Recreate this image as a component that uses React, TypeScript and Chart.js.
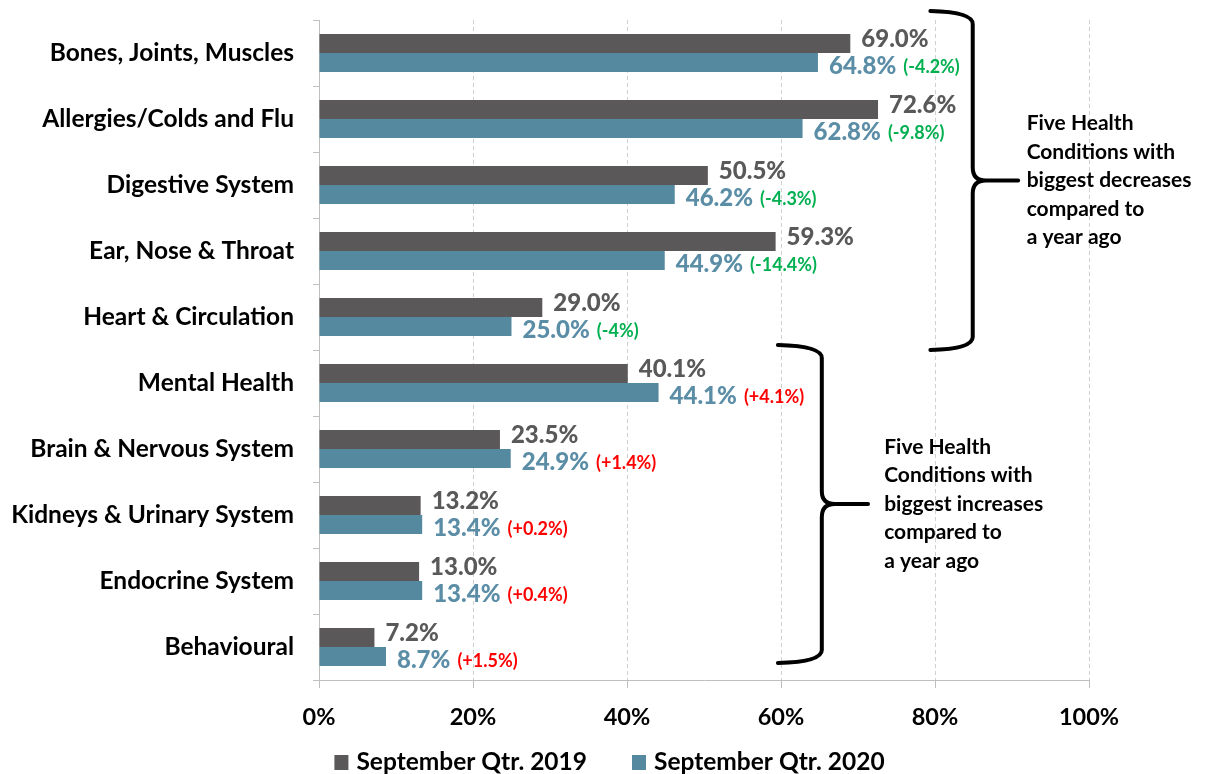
import React, { useEffect, useRef } from 'react';
import { Chart, registerables } from 'chart.js';

Chart.register(...registerables);

const categories = [
  'Bones, Joints, Muscles',
  'Allergies/Colds and Flu',
  'Digestive System',
  'Ear, Nose & Throat',
  'Heart & Circulation',
  'Mental Health',
  'Brain & Nervous System',
  'Kidneys & Urinary System',
  'Endocrine System',
  'Behavioural',
];
const sep2019 = [69.0, 72.6, 50.5, 59.3, 29.0, 40.1, 23.5, 13.2, 13.0, 7.2];
const sep2020 = [64.8, 62.8, 46.2, 44.9, 25.0, 44.1, 24.9, 13.4, 13.4, 8.7];
const changeLabels = ['(-4.2%)', '(-9.8%)', '(-4.3%)', '(-14.4%)', '(-4%)', '(+4.1%)', '(+1.4%)', '(+0.2%)', '(+0.4%)', '(+1.5%)'];
const seriesNames = ['September Qtr. 2019', 'September Qtr. 2020'];
const xMin = 0;
const xMax = 100;
const xStep = 20;
const decreaseNote = ['Five Health', 'Conditions with', 'biggest decreases', 'compared to', 'a year ago'];
const increaseNote = ['Five Health', 'Conditions with', 'biggest increases', 'compared to', 'a year ago'];

const FONT = 'Lato, "Open Sans", sans-serif';
const DARK = '#5A5858';
const TEAL = '#5589A0';
const DARK_LABEL = '#595959';
const TEAL_LABEL = '#5B8EA6';
const GREEN = '#00B050';
const RED = '#FF0000';

const valueLabelPlugin = {
  id: 'valueLabels',
  afterDatasetsDraw(chart: any) {
    const ctx = chart.ctx;
    ctx.save();
    ctx.textAlign = 'left';
    ctx.textBaseline = 'middle';
    chart.data.datasets.forEach((ds: any, di: number) => {
      const meta = chart.getDatasetMeta(di);
      meta.data.forEach((bar: any, i: number) => {
        const { x, y } = bar.getProps(['x', 'y'], true);
        const text = Number(ds.data[i]).toFixed(1) + '%';
        ctx.font = `900 24px ${FONT}`;
        ctx.fillStyle = di === 0 ? DARK_LABEL : TEAL_LABEL;
        const ty = di === 0 ? y - 4 : y + 4;
        ctx.fillText(text, x + 11, ty);
        if (di === 1) {
          const w = ctx.measureText(text).width;
          const ch = changeLabels[i];
          ctx.font = `bold 18px ${FONT}`;
          ctx.fillStyle = ch.indexOf('-') >= 0 ? GREEN : RED;
          ctx.fillText(ch, x + 11 + w + 7, ty + 1);
        }
      });
    });
    ctx.restore();
  },
};

function drawBrace(ctx: any, xArm: number, xInner: number, xTip: number, yTop: number, yBot: number) {
  const yMid = (yTop + yBot) / 2;
  const r = 13;
  ctx.beginPath();
  ctx.moveTo(xArm, yTop);
  ctx.quadraticCurveTo(xInner, yTop + 1, xInner, yTop + r);
  ctx.lineTo(xInner, yMid - r);
  ctx.quadraticCurveTo(xInner, yMid, xInner + r, yMid);
  ctx.lineTo(xTip, yMid);
  ctx.moveTo(xInner + r, yMid);
  ctx.quadraticCurveTo(xInner, yMid, xInner, yMid + r);
  ctx.lineTo(xInner, yBot - r);
  ctx.quadraticCurveTo(xInner, yBot - 1, xArm, yBot);
  ctx.stroke();
}

const bracketPlugin = {
  id: 'brackets',
  afterDraw(chart: any) {
    const ctx = chart.ctx;
    const xs = chart.scales.x;
    const ys = chart.scales.y;
    const half = (ys.getPixelForValue(1) - ys.getPixelForValue(0)) / 2;
    ctx.save();
    ctx.strokeStyle = '#000';
    ctx.lineWidth = 4;
    ctx.lineCap = 'round';
    ctx.lineJoin = 'round';

    const groups = [
      { arm: 79.4, inner: 84.9, tip: 90.8, text: 91.9, top: ys.getPixelForValue(0) - half - 9, bot: ys.getPixelForValue(4) + half, lines: decreaseNote },
      { arm: 59.6, inner: 65.3, tip: 71.3, text: 73.4, top: ys.getPixelForValue(5) - half - 5, bot: ys.getPixelForValue(9) + half - 17, lines: increaseNote },
    ];
    groups.forEach((g) => {
      drawBrace(ctx, xs.getPixelForValue(g.arm), xs.getPixelForValue(g.inner), xs.getPixelForValue(g.tip), g.top, g.bot);
      const mid = (g.top + g.bot) / 2;
      ctx.font = `bold 21px ${FONT}`;
      ctx.fillStyle = '#000';
      ctx.textAlign = 'left';
      ctx.textBaseline = 'middle';
      const lh = 28.5;
      g.lines.forEach((t: string, k: number) => {
        ctx.fillText(t, xs.getPixelForValue(g.text), mid + (k - (g.lines.length - 1) / 2) * lh);
      });
    });
    ctx.restore();
  },
};

const legendPlugin = {
  id: 'customLegend',
  afterDraw(chart: any) {
    const ctx = chart.ctx;
    ctx.save();
    ctx.font = `bold 24.5px ${FONT}`;
    ctx.textBaseline = 'middle';
    ctx.textAlign = 'left';
    const box = 14;
    const gapBox = 8;
    const gapItem = 45;
    const items = chart.data.datasets.map((ds: any) => ({ label: ds.label, color: ds.backgroundColor, w: ctx.measureText(ds.label).width }));
    const total = items.reduce((s: number, it: any) => s + box + gapBox + it.w, 0) + gapItem * (items.length - 1);
    let x = chart.width / 2 + 7 - total / 2;
    const y = chart.height - 12;
    items.forEach((it: any) => {
      ctx.fillStyle = it.color;
      ctx.fillRect(x, y - 7, box, 15);
      x += box + gapBox;
      ctx.fillStyle = '#000';
      ctx.fillText(it.label, x, y);
      x += it.w + gapItem;
    });
    ctx.restore();
  },
};

export default function App() {
  const ref = useRef<HTMLCanvasElement | null>(null);
  useEffect(() => {
    if (!ref.current) return;
    const chart = new Chart(ref.current, {
      type: 'bar',
      data: {
        labels: categories,
        datasets: [
          { label: seriesNames[0], data: sep2019, backgroundColor: DARK, categoryPercentage: 0.576, barPercentage: 1 },
          { label: seriesNames[1], data: sep2020, backgroundColor: TEAL, categoryPercentage: 0.576, barPercentage: 1 },
        ],
      },
      options: {
        indexAxis: 'y',
        responsive: false,
        animation: false,
        layout: { padding: { top: 20, right: 116, bottom: 0, left: 0 } },
        plugins: { legend: { display: false }, tooltip: { enabled: false } },
        scales: {
          x: {
            min: xMin,
            max: xMax,
            ticks: {
              stepSize: xStep,
              callback: (v: any) => v + '%',
              font: { family: FONT, size: 23.5, weight: 'bold' },
              color: '#000',
              padding: 15,
              maxRotation: 0,
            },
            grid: { color: '#D0D0D0', tickColor: '#BFBFBF', tickLength: 8, tickBorderDash: [], lineWidth: 1 },
            border: { color: '#BFBFBF', width: 1, dash: [4, 3] },
            afterFit: (scale: any) => { scale.height = 94; },
          },
          y: {
            ticks: {
              font: { family: FONT, size: 24.5, weight: 'bold' },
              color: '#000',
              padding: 19,
            },
            grid: { offset: true, drawOnChartArea: false, color: '#BFBFBF', tickLength: 6 },
            border: { color: '#BFBFBF', width: 1 },
            afterFit: (scale: any) => { scale.width = 319; scale.paddingTop = 0; scale.paddingBottom = 0; },
          },
        },
      } as any,
      plugins: [valueLabelPlugin, bracketPlugin, legendPlugin],
    });
    return () => chart.destroy();
  }, []);
  return (
    <div style={{ position: 'fixed', left: 0, top: 0, width: 1205, height: 774, background: '#fff' }}>
      <canvas ref={ref} width={1205} height={774} />
    </div>
  );
}
